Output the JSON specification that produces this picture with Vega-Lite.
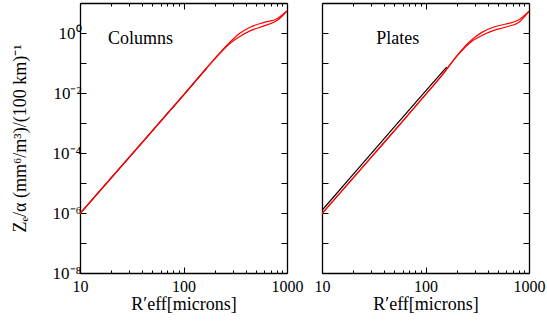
{
  "$schema": "https://vega.github.io/schema/vega-lite/v6.json",
  "padding": {"left": 11, "top": 2, "right": 5, "bottom": 0},
  "background": "white",
  "config": {
    "view": {"stroke": null},
    "font": "Liberation Serif",
    "axis": {
      "domainColor": "#000",
      "domainWidth": 1.3,
      "tickColor": "#000",
      "tickWidth": 1,
      "grid": false,
      "labelFont": "Liberation Serif",
      "labelColor": "#000",
      "titleFont": "Liberation Serif",
      "titleColor": "#000",
      "titleFontWeight": "normal"
    }
  },
  "datasets": {
    "curves": [
      {"panel": "Columns", "series": "black", "x": 10, "y": 9.5e-7},
      {"panel": "Columns", "series": "black", "x": 20, "y": 1.47e-5},
      {"panel": "Columns", "series": "black", "x": 50, "y": 5.45e-4},
      {"panel": "Columns", "series": "black", "x": 100, "y": 8.47e-3},
      {"panel": "Columns", "series": "black", "x": 168, "y": 0.068},

      {"panel": "Columns", "series": "red1", "x": 10, "y": 9.5e-7},
      {"panel": "Columns", "series": "red1", "x": 30, "y": 7.3e-5},
      {"panel": "Columns", "series": "red1", "x": 60, "y": 1.13e-3},
      {"panel": "Columns", "series": "red1", "x": 100, "y": 8.5e-3},
      {"panel": "Columns", "series": "red1", "x": 150, "y": 0.044},
      {"panel": "Columns", "series": "red1", "x": 200, "y": 0.14},
      {"panel": "Columns", "series": "red1", "x": 275, "y": 0.46},
      {"panel": "Columns", "series": "red1", "x": 350, "y": 0.98},
      {"panel": "Columns", "series": "red1", "x": 450, "y": 1.62},
      {"panel": "Columns", "series": "red1", "x": 600, "y": 2.25},
      {"panel": "Columns", "series": "red1", "x": 800, "y": 3.0},
      {"panel": "Columns", "series": "red1", "x": 1000, "y": 5.4},

      {"panel": "Columns", "series": "red2", "x": 10, "y": 9.5e-7},
      {"panel": "Columns", "series": "red2", "x": 30, "y": 7.3e-5},
      {"panel": "Columns", "series": "red2", "x": 60, "y": 1.13e-3},
      {"panel": "Columns", "series": "red2", "x": 100, "y": 8.5e-3},
      {"panel": "Columns", "series": "red2", "x": 150, "y": 0.044},
      {"panel": "Columns", "series": "red2", "x": 200, "y": 0.135},
      {"panel": "Columns", "series": "red2", "x": 275, "y": 0.42},
      {"panel": "Columns", "series": "red2", "x": 350, "y": 0.76},
      {"panel": "Columns", "series": "red2", "x": 450, "y": 1.22},
      {"panel": "Columns", "series": "red2", "x": 600, "y": 1.72},
      {"panel": "Columns", "series": "red2", "x": 800, "y": 2.6},
      {"panel": "Columns", "series": "red2", "x": 1000, "y": 5.4},

      {"panel": "Plates", "series": "black", "x": 10, "y": 1.23e-6},
      {"panel": "Plates", "series": "black", "x": 20, "y": 1.93e-5},
      {"panel": "Plates", "series": "black", "x": 50, "y": 7.4e-4},
      {"panel": "Plates", "series": "black", "x": 100, "y": 1.15e-2},
      {"panel": "Plates", "series": "black", "x": 160, "y": 0.073},

      {"panel": "Plates", "series": "red1", "x": 10, "y": 9.5e-7},
      {"panel": "Plates", "series": "red1", "x": 30, "y": 7.3e-5},
      {"panel": "Plates", "series": "red1", "x": 60, "y": 1.13e-3},
      {"panel": "Plates", "series": "red1", "x": 100, "y": 8.8e-3},
      {"panel": "Plates", "series": "red1", "x": 150, "y": 0.046},
      {"panel": "Plates", "series": "red1", "x": 200, "y": 0.17},
      {"panel": "Plates", "series": "red1", "x": 275, "y": 0.56},
      {"panel": "Plates", "series": "red1", "x": 350, "y": 1.05},
      {"panel": "Plates", "series": "red1", "x": 450, "y": 1.55},
      {"panel": "Plates", "series": "red1", "x": 600, "y": 2.0},
      {"panel": "Plates", "series": "red1", "x": 800, "y": 2.75},
      {"panel": "Plates", "series": "red1", "x": 1000, "y": 5.3},

      {"panel": "Plates", "series": "red2", "x": 10, "y": 9.5e-7},
      {"panel": "Plates", "series": "red2", "x": 30, "y": 7.3e-5},
      {"panel": "Plates", "series": "red2", "x": 60, "y": 1.13e-3},
      {"panel": "Plates", "series": "red2", "x": 100, "y": 8.8e-3},
      {"panel": "Plates", "series": "red2", "x": 150, "y": 0.046},
      {"panel": "Plates", "series": "red2", "x": 200, "y": 0.165},
      {"panel": "Plates", "series": "red2", "x": 275, "y": 0.5},
      {"panel": "Plates", "series": "red2", "x": 350, "y": 0.82},
      {"panel": "Plates", "series": "red2", "x": 450, "y": 1.2},
      {"panel": "Plates", "series": "red2", "x": 600, "y": 1.58},
      {"panel": "Plates", "series": "red2", "x": 800, "y": 2.3},
      {"panel": "Plates", "series": "red2", "x": 1000, "y": 5.3}
    ],
    "labels": [
      {"panel": "Columns", "label": "Columns", "x": 18.6, "y": 0.43},
      {"panel": "Plates", "label": "Plates", "x": 33.4, "y": 0.43}
    ]
  },
  "hconcat": [
    {
      "width": 207,
      "height": 270,
      "resolve": {"axis": {"x": "independent", "y": "independent"}},
      "layer": [
        {
          "data": {"name": "curves"},
          "transform": [{"filter": "datum.panel == 'Columns'"}],
          "mark": {"type": "line", "strokeWidth": 1.2, "clip": true, "interpolate": "monotone"},
          "encoding": {
            "x": {"field": "x", "type": "quantitative",
              "scale": {"type": "log", "domain": [10, 1000], "nice": false},
              "axis": {"orient": "bottom", "title": "R′eff[microns]", "titleFontSize": 18, "titlePadding": 1,
                "values": [10,20,30,40,50,60,70,80,90,100,200,300,400,500,600,700,800,900,1000],
                "labelExpr": "(datum.value==10||datum.value==100||datum.value==1000) ? datum.value : ''",
                "labelFontSize": 16, "labelPadding": 11, "labelFlush": false,
                "tickSize": {"condition": {"test": "datum.value==10||datum.value==100||datum.value==1000", "value": -6}, "value": -3}}},
            "y": {"field": "y", "type": "quantitative",
              "scale": {"type": "log", "domain": [1e-8, 10], "nice": false},
              "axis": {"orient": "left", "title": "Zₑ/α  (mm⁶/m³)/(100 km)⁻¹", "titleFontSize": 18, "titlePadding": 23,
                "values": [1e-8,1e-7,1e-6,1e-5,1e-4,1e-3,1e-2,1e-1,1],
                "labelExpr": "round(log(datum.value)/LN10)==0 ? '10⁰' : round(log(datum.value)/LN10)==-2 ? '10⁻²' : round(log(datum.value)/LN10)==-4 ? '10⁻⁴' : round(log(datum.value)/LN10)==-6 ? '10⁻⁶' : round(log(datum.value)/LN10)==-8 ? '10⁻⁸' : ''",
                "labelFontSize": 17, "labelPadding": 5, "labelFlush": false, "tickSize": -6}},
            "color": {"field": "series", "type": "nominal",
              "scale": {"domain": ["black", "red1", "red2"], "range": ["#000000", "#ff0000", "#ff0000"]}, "legend": null},
            "order": {"field": "x", "type": "quantitative"}
          }
        },
        {
          "data": {"name": "curves"},
          "transform": [{"filter": "datum.panel == 'Columns' && datum.series == 'black'"}],
          "mark": {"type": "line", "opacity": 0, "clip": true},
          "encoding": {
            "x": {"field": "x", "type": "quantitative",
              "scale": {"type": "log", "domain": [10, 1000], "nice": false},
              "axis": {"orient": "top", "title": null, "labels": false,
                "values": [10,20,30,40,50,60,70,80,90,100,200,300,400,500,600,700,800,900,1000],
                "tickSize": {"condition": {"test": "datum.value==10||datum.value==100||datum.value==1000", "value": -6}, "value": -3}}},
            "y": {"field": "y", "type": "quantitative",
              "scale": {"type": "log", "domain": [1e-8, 10], "nice": false},
              "axis": {"orient": "right", "title": null, "labels": false,
                "values": [1e-8,1e-7,1e-6,1e-5,1e-4,1e-3,1e-2,1e-1,1], "tickSize": -6}}
          }
        },
        {
          "data": {"name": "labels"},
          "transform": [{"filter": "datum.panel == 'Columns'"}],
          "mark": {"type": "text", "align": "left", "baseline": "alphabetic", "fontSize": 18, "font": "Liberation Serif", "color": "#000"},
          "encoding": {
            "x": {"field": "x", "type": "quantitative", "scale": {"type": "log", "domain": [10, 1000], "nice": false}, "axis": null},
            "y": {"field": "y", "type": "quantitative", "scale": {"type": "log", "domain": [1e-8, 10], "nice": false}, "axis": null},
            "text": {"field": "label"}
          }
        }
      ]
    },
    {
      "width": 207,
      "height": 270,
      "resolve": {"axis": {"x": "independent", "y": "independent"}},
      "layer": [
        {
          "data": {"name": "curves"},
          "transform": [{"filter": "datum.panel == 'Plates'"}],
          "mark": {"type": "line", "strokeWidth": 1.2, "clip": true, "interpolate": "monotone"},
          "encoding": {
            "x": {"field": "x", "type": "quantitative",
              "scale": {"type": "log", "domain": [10, 1000], "nice": false},
              "axis": {"orient": "bottom", "title": "R′eff[microns]", "titleFontSize": 18, "titlePadding": 1,
                "values": [10,20,30,40,50,60,70,80,90,100,200,300,400,500,600,700,800,900,1000],
                "labelExpr": "(datum.value==10||datum.value==100||datum.value==1000) ? datum.value : ''",
                "labelFontSize": 16, "labelPadding": 11, "labelFlush": false,
                "tickSize": {"condition": {"test": "datum.value==10||datum.value==100||datum.value==1000", "value": -6}, "value": -3}}},
            "y": {"field": "y", "type": "quantitative",
              "scale": {"type": "log", "domain": [1e-8, 10], "nice": false},
              "axis": {"orient": "left", "title": null, "labels": false,
                "values": [1e-8,1e-7,1e-6,1e-5,1e-4,1e-3,1e-2,1e-1,1], "tickSize": -6}},
            "color": {"field": "series", "type": "nominal",
              "scale": {"domain": ["black", "red1", "red2"], "range": ["#000000", "#ff0000", "#ff0000"]}, "legend": null},
            "order": {"field": "x", "type": "quantitative"}
          }
        },
        {
          "data": {"name": "curves"},
          "transform": [{"filter": "datum.panel == 'Plates' && datum.series == 'black'"}],
          "mark": {"type": "line", "opacity": 0, "clip": true},
          "encoding": {
            "x": {"field": "x", "type": "quantitative",
              "scale": {"type": "log", "domain": [10, 1000], "nice": false},
              "axis": {"orient": "top", "title": null, "labels": false,
                "values": [10,20,30,40,50,60,70,80,90,100,200,300,400,500,600,700,800,900,1000],
                "tickSize": {"condition": {"test": "datum.value==10||datum.value==100||datum.value==1000", "value": -6}, "value": -3}}},
            "y": {"field": "y", "type": "quantitative",
              "scale": {"type": "log", "domain": [1e-8, 10], "nice": false},
              "axis": {"orient": "right", "title": null, "labels": false,
                "values": [1e-8,1e-7,1e-6,1e-5,1e-4,1e-3,1e-2,1e-1,1], "tickSize": -6}}
          }
        },
        {
          "data": {"name": "labels"},
          "transform": [{"filter": "datum.panel == 'Plates'"}],
          "mark": {"type": "text", "align": "left", "baseline": "alphabetic", "fontSize": 18, "font": "Liberation Serif", "color": "#000"},
          "encoding": {
            "x": {"field": "x", "type": "quantitative", "scale": {"type": "log", "domain": [10, 1000], "nice": false}, "axis": null},
            "y": {"field": "y", "type": "quantitative", "scale": {"type": "log", "domain": [1e-8, 10], "nice": false}, "axis": null},
            "text": {"field": "label"}
          }
        }
      ]
    }
  ],
  "spacing": 35,
  "bounds": "flush"
}
